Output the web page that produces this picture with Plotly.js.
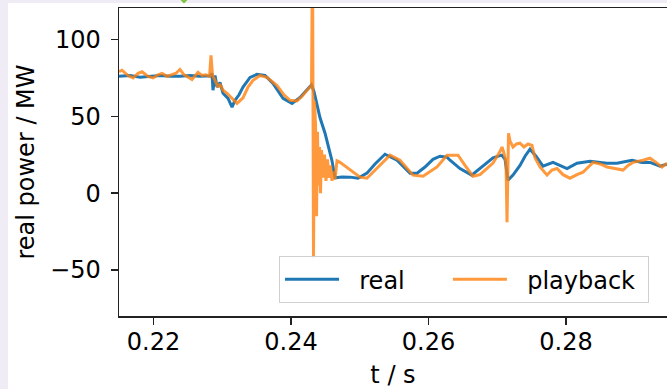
<!DOCTYPE html>
<html>
<head>
<meta charset="utf-8">
<script src="https://cdn.plot.ly/plotly-3.0.1.min.js"></script>
<style>
  html, body { margin: 0; padding: 0; background: #f0ecf5; width: 667px; height: 389px; overflow: hidden; }
  #chart { position: absolute; left: 8px; top: 3px; width: 659px; height: 386px; background: #fff; }
  #mark { position: absolute; left: 178px; top: -4px; }
</style>
</head>
<body>
<div id="chart"></div>
<svg id="mark" width="12" height="8"><polyline points="1,1 6,6 11,1" fill="none" stroke="#7cc33a" stroke-width="2"/></svg>
<script>
// time (s) and real power (MW)
const tReal = [0.21498,0.21658,0.21804,0.21949,0.22095,0.2224,0.22385,0.22531,0.22676,0.22822,0.22851,0.22865,0.22895,0.22924,0.22967,0.23011,0.23084,0.23142,0.23185,0.23244,0.23302,0.23404,0.23505,0.23622,0.23738,0.23884,0.24015,0.24131,0.24276,0.24298,0.24335,0.24422,0.24495,0.24596,0.2464,0.24742,0.24858,0.24975,0.25105,0.25222,0.25367,0.25542,0.25731,0.25833,0.25949,0.26065,0.26167,0.26269,0.26313,0.26458,0.26628,0.26778,0.26938,0.27065,0.27113,0.27156,0.27229,0.27331,0.27404,0.27476,0.27564,0.27665,0.27811,0.28015,0.2816,0.28349,0.28596,0.28742,0.2896,0.29105,0.29222,0.29367,0.29469];
const pReal = [76,76.5,75.5,76,76.5,76,76,76.5,76,76.3,78,67,76.6,69,72,65,61.7,56,60.4,64,69,75.3,77.3,76.6,71.4,61.7,58.4,62.3,70,70.5,66,49,39,21,10,10.5,10.4,9.7,13,19,25.3,21.4,13,13,17,22,24,23.4,21.4,16,11.7,17,23,24.7,22,8.4,11.7,18,24,28.6,24,17.5,20,16,19.5,20.8,19.5,19.5,21.4,20,20,17.5,18.8];

const tPlay = [0.21498,0.21542,0.21629,0.21702,0.21775,0.21833,0.2192,0.21993,0.22065,0.22124,0.22196,0.22269,0.22327,0.22385,0.22444,0.22487,0.2256,0.22647,0.22705,0.22764,0.22815,0.22836,0.22858,0.22895,0.22938,0.22967,0.23011,0.23069,0.23142,0.23215,0.23302,0.23375,0.23447,0.23549,0.23651,0.23796,0.23898,0.23985,0.24087,0.2416,0.24233,0.24298,0.24313,0.24327,0.24342,0.24356,0.24371,0.24385,0.244,0.24415,0.24429,0.24444,0.24465,0.24487,0.24509,0.24531,0.24553,0.24575,0.24596,0.24618,0.2464,0.24669,0.24713,0.24858,0.25004,0.25105,0.25251,0.2544,0.25585,0.25775,0.2592,0.26124,0.26269,0.26429,0.26531,0.26647,0.26749,0.26938,0.2704,0.27069,0.27098,0.27127,0.27142,0.27164,0.27185,0.27229,0.2728,0.27331,0.27389,0.27447,0.27505,0.27549,0.27622,0.27724,0.27796,0.27869,0.27956,0.28058,0.2816,0.28247,0.28393,0.28495,0.28596,0.28713,0.28829,0.28902,0.28975,0.2912,0.29222,0.29309,0.29396,0.29469];
const pPlay = [79,80,76.5,75,78,79,76,75,77,78,76,77,78,80.5,77,76,74,78.6,76.6,77,76,89.6,76.6,73.4,69,71,67,65,61.7,58.4,62,69,73.4,76.6,75.3,70,64,60.4,60,63,67,70,160,-42,60,45,-15,40,5,30,0,28,10,25,8,22,10,18,8,14,9,21,20,15,10.4,9.7,16,24.7,21.4,11.7,11,17,24.7,24.7,18,11,12,19.5,27,30,26,20,-19,39,34,30,32,32.5,30,32,31,23,17,11.7,15,16,12,9.7,12,13.6,20,19,17,16,15,18,20,21.4,22.7,20,17,19.5];

const seriesNames = ['real', 'playback'];
const xTicks = [0.22, 0.24, 0.26, 0.28];
const xTickText = ['0.22', '0.24', '0.26', '0.28'];
const yTicks = [-50, 0, 50, 100];
const yTickText = ['\u221250', '0', '50', '100'];

const font = {family: 'DejaVu Sans', size: 24, color: '#000'};
const NB = '\u00a0';

const traces = [
  {x: tReal, y: pReal, type: 'scatter', mode: 'lines', name: NB + NB + seriesNames[0] + NB.repeat(5),
   line: {color: '#1f77b4', width: 3}},
  {x: tPlay, y: pPlay, type: 'scatter', mode: 'lines', name: NB + NB + seriesNames[1] + NB,
   opacity: 0.8, line: {color: '#ff7f0e', width: 3}}
];

const layout = {
  width: 659, height: 386,
  margin: {l: 111, r: 0, t: 5, b: 73},
  paper_bgcolor: '#fff', plot_bgcolor: '#fff',
  font: font,
  showlegend: true,
  legend: {
    orientation: 'h', x: 0.292, y: 0.042, xanchor: 'left', yanchor: 'bottom',
    bgcolor: 'rgba(255,255,255,0.85)', bordercolor: '#d0d0d0', borderwidth: 1,
    font: font, itemwidth: 54
  },
  xaxis: {
    range: [0.21498, 0.29469], tickvals: xTicks, ticktext: xTickText,
    showgrid: false, zeroline: false, showline: true, mirror: true,
    linecolor: '#222', linewidth: 1.5, ticks: 'outside', ticklen: 7, tickwidth: 1.5, tickcolor: '#222',
    ticklabelstandoff: -3,
    tickfont: font, title: {text: 't / s', font: font, standoff: 14}
  },
  yaxis: {
    range: [-80, 120.5], tickvals: yTicks, ticktext: yTickText,
    showgrid: false, zeroline: false, showline: true, mirror: false,
    linecolor: '#222', linewidth: 1.5, ticks: 'outside', ticklen: 7, tickwidth: 1.5, tickcolor: '#222',
    ticklabelstandoff: 5,
    tickfont: font, title: {text: 'real power / MW', font: font, standoff: 8}
  }
};

Plotly.newPlot('chart', traces, layout, {displayModeBar: false, staticPlot: true});
</script>
</body>
</html>
